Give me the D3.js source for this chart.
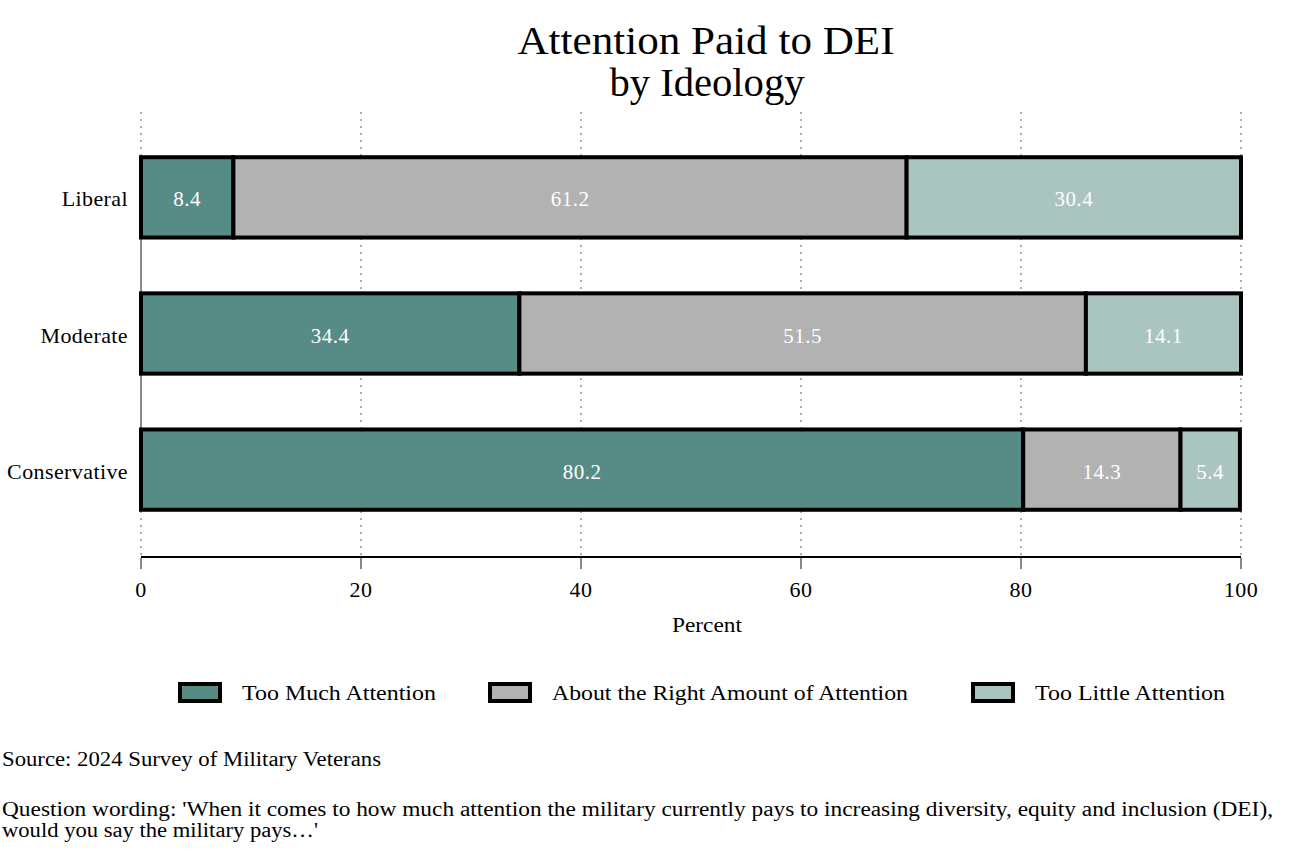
<!DOCTYPE html>
<html>
<head>
<meta charset="utf-8">
<script src="https://cdn.jsdelivr.net/npm/d3@7"></script>
<style>
  body { margin: 0; background: #fff; }
  text { font-family: "Liberation Serif", "DejaVu Serif", serif; }
</style>
</head>
<body>
<script>
// data
var groups = ['Liberal', 'Moderate', 'Conservative'];
var responses = ['Too Much Attention', 'About the Right Amount of Attention', 'Too Little Attention'];
var tooMuch = [8.4, 34.4, 80.2];
var aboutRight = [61.2, 51.5, 14.3];
var tooLittle = [30.4, 14.1, 5.4];
var xTicks = [0, 20, 40, 60, 80, 100];
var colors = ['#578b85', '#b2b2b2', '#aac4c0'];

var width = 1294, height = 859;

var svg = d3.select('body').append('svg')
    .attr('width', width)
    .attr('height', height);

var x = d3.scaleLinear().domain([0, 100]).range([141, 1241]);
var y = d3.scaleBand().domain(groups).range([130, 537]).paddingInner(0.41).paddingOuter(0.2);

var rows = groups.map(function(g, i) {
    return {group: g, vals: [tooMuch[i], aboutRight[i], tooLittle[i]]};
});

// garamond is wider than what we have, so stretch to match
function fit(sel, len) {
    sel.attr('textLength', len).attr('lengthAdjust', 'spacingAndGlyphs');
}

// title
svg.append('text')
    .attr('x', 706).attr('y', 54)
    .attr('text-anchor', 'middle')
    .style('font-size', '41px')
    .text('Attention Paid to DEI')
    .call(fit, 377);
svg.append('text')
    .attr('x', 707).attr('y', 96)
    .attr('text-anchor', 'middle')
    .style('font-size', '41px')
    .text('by Ideology')
    .call(fit, 195);

// dotted grid
svg.append('g').selectAll('line')
    .data(xTicks)
    .enter().append('line')
    .attr('x1', d => x(d)).attr('x2', d => x(d))
    .attr('y1', 112).attr('y2', 555)
    .attr('stroke', '#777')
    .attr('stroke-width', 1.2)
    .attr('stroke-dasharray', '2,5');

// y axis line (band centre to band centre)
svg.append('line')
    .attr('x1', 141).attr('x2', 141)
    .attr('y1', y(groups[0]) + y.bandwidth() / 2)
    .attr('y2', y(groups[groups.length - 1]) + y.bandwidth() / 2)
    .attr('stroke', '#888').attr('stroke-width', 2);

// bars
var bar = svg.append('g').selectAll('g')
    .data(rows)
    .enter().append('g');

bar.each(function(r) {
    var g = d3.select(this);
    var start = 0;
    r.vals.forEach(function(v, k) {
        g.append('rect')
            .attr('x', x(start))
            .attr('y', y(r.group))
            .attr('width', x(start + v) - x(start))
            .attr('height', y.bandwidth())
            .attr('fill', colors[k])
            .attr('stroke', '#000')
            .attr('stroke-width', 4);
        g.append('text')
            .attr('x', x(start + v / 2))
            .attr('y', y(r.group) + y.bandwidth() / 2 + 9)
            .attr('text-anchor', 'middle')
            .attr('fill', '#fff')
            .style('font-size', '21px')
            .style('letter-spacing', '0.5px')
            .text(v.toFixed(1));
        start += v;
    });
});

// y labels
svg.append('g').selectAll('text')
    .data(groups)
    .enter().append('text')
    .attr('x', 128)
    .attr('y', d => y(d) + y.bandwidth() / 2 + 9)
    .attr('text-anchor', 'end')
    .style('font-size', '22px')
    .style('letter-spacing', '0.4px')
    .text(d => d);

// x axis
svg.append('line')
    .attr('x1', 141).attr('x2', 1241)
    .attr('y1', 557).attr('y2', 557)
    .attr('stroke', '#000').attr('stroke-width', 2);
svg.append('g').selectAll('line')
    .data(xTicks)
    .enter().append('line')
    .attr('x1', d => x(d)).attr('x2', d => x(d))
    .attr('y1', 558).attr('y2', 569)
    .attr('stroke', '#888').attr('stroke-width', 2);
svg.append('g').selectAll('text')
    .data(xTicks)
    .enter().append('text')
    .attr('x', d => x(d))
    .attr('y', 597)
    .attr('text-anchor', 'middle')
    .style('font-size', '22px')
    .style('letter-spacing', '0.5px')
    .text(d => d);
svg.append('text')
    .attr('x', 707).attr('y', 632)
    .attr('text-anchor', 'middle')
    .style('font-size', '21px')
    .text('Percent')
    .call(fit, 70);

// legend
var legX = [178, 488, 971];
var legLen = [194, 356, 190];
var leg = svg.append('g').selectAll('g')
    .data(responses)
    .enter().append('g')
    .attr('transform', (d, i) => 'translate(' + legX[i] + ',682)');
leg.append('rect')
    .attr('x', 2).attr('y', 2)
    .attr('width', 40).attr('height', 17)
    .attr('fill', (d, i) => colors[i])
    .attr('stroke', '#000').attr('stroke-width', 4);
leg.append('text')
    .attr('x', 64).attr('y', 18)
    .style('font-size', '21px')
    .text(d => d)
    .each(function(d, i) { d3.select(this).call(fit, legLen[i]); });

// notes
svg.append('text')
    .attr('x', 2).attr('y', 766)
    .style('font-size', '20px')
    .text('Source: 2024 Survey of Military Veterans')
    .call(fit, 379);
svg.append('text')
    .attr('x', 2).attr('y', 816)
    .style('font-size', '20px')
    .text("Question wording: 'When it comes to how much attention the military currently pays to increasing diversity, equity and inclusion (DEI),")
    .call(fit, 1271);
svg.append('text')
    .attr('x', 2).attr('y', 837)
    .style('font-size', '20px')
    .text("would you say the military pays\u2026'")
    .call(fit, 316);
</script>
</body>
</html>
